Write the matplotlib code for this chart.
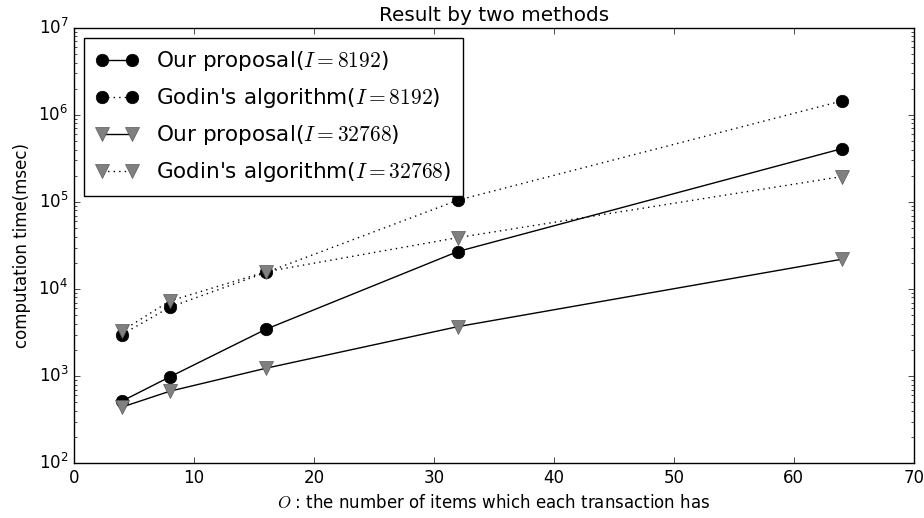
import matplotlib
matplotlib.use("Agg")
import matplotlib.pyplot as plt

plt.style.use('classic')

items = [4, 8, 16, 32, 64]
ours_8192 = [515, 980, 3450, 27000, 410000]
godin_8192 = [3000, 6200, 15500, 105000, 1450000]
ours_32768 = [440, 670, 1230, 3700, 22000]
godin_32768 = [3300, 7300, 15800, 39000, 196000]

fig = plt.figure(figsize=(9.24, 5.18), dpi=100, facecolor='white')
ax = fig.add_axes([0.080, 0.106, 0.909, 0.840])

ax.plot(items, ours_8192, '-', marker='o', markersize=9, color='black',
        label='Our proposal($I=8192$)')
ax.plot(items, godin_8192, ':', marker='o', markersize=9, color='black',
        label="Godin's algorithm($I=8192$)")
ax.plot(items, ours_32768, '-', marker='v', markersize=10, color='black',
        markerfacecolor='0.5', markeredgecolor='0.35',
        label='Our proposal($I=32768$)')
ax.plot(items, godin_32768, ':', marker='v', markersize=10, color='black',
        markerfacecolor='0.5', markeredgecolor='0.35',
        label="Godin's algorithm($I=32768$)")

ax.set_yscale('log')
ax.set_xlim(0, 70)
ax.set_ylim(1e2, 1e7)
ax.set_title('Result by two methods')
ax.set_ylabel('computation time(msec)')
ax.set_xlabel('$O$ : the number of items which each transaction has')
ax.legend(loc='upper left', numpoints=2, prop={'size': 15.5},
          borderaxespad=0.45, labelspacing=0.6, borderpad=0.55)

fig.savefig('out.png', dpi=100, facecolor='white')
